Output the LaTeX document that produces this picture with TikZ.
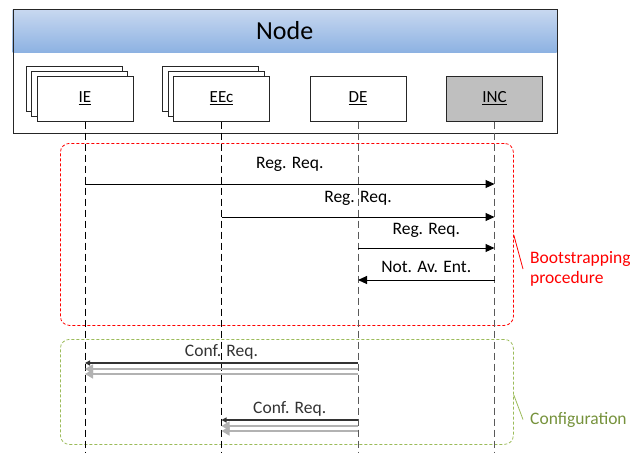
\documentclass[tikz,border=0pt]{standalone}
\usepackage{fontspec}
\setmainfont{Carlito}
\usetikzlibrary{arrows.meta, positioning, shadows}
\definecolor{hdrtop}{RGB}{200, 216, 240}
\definecolor{hdrbot}{RGB}{141, 178, 226}
\definecolor{incgray}{RGB}{191, 191, 191}
\definecolor{bootred}{RGB}{255, 0, 0}
\definecolor{cfgline}{RGB}{155, 187, 89}
\definecolor{cfgtext}{RGB}{118, 146, 60}

\begin{document}
\begin{tikzpicture}[x=1pt, y=-1pt, >=Stealth,
    lbl/.style={font=\fontsize{17.5}{20}\selectfont, inner sep=0pt},
    entity/.style={draw=black!85, fill=white, line width=1pt, minimum width=96pt, minimum height=45pt, inner sep=0pt, font=\fontsize{17}{20}\selectfont},
    stacked/.style={copy shadow={shadow xshift=-11pt, shadow yshift=10pt, fill=white, draw=black!85},
                    copy shadow={shadow xshift=-5.5pt, shadow yshift=5pt, fill=white, draw=black!85}},
    lifeline/.style={dash pattern=on 7pt off 4pt, line width=1pt},
    msg/.style={-{Triangle[length=9pt, width=8pt]}, line width=1pt},
    cfgmsg/.style={-{Triangle[length=5pt, width=5pt]}, line width=1.2pt, black!80},
    cfgcopy/.style={-{Triangle[length=8pt, width=9pt]}, line width=1.4pt, gray!60},
    group/.style={dash pattern=on 3pt off 2pt, line width=0.8pt, rounded corners=9pt, minimum width=453pt, inner sep=0pt, anchor=north west}
  ]
  \useasboundingbox (0,0) rectangle (630,453);

  % node frame with its header
  \node[anchor=north west, minimum width=544pt, minimum height=43pt, inner sep=0pt, top color=hdrtop, bottom color=hdrbot, font=\fontsize{26}{30}\selectfont] (hdr) at (12.5,9) {Node};
  \node[draw=black!85, line width=1.3pt, minimum width=544pt, minimum height=124pt, inner sep=0pt, anchor=north west] (frame) at (hdr.north west) {};

  % entities
  \node[entity, stacked] (IE) at (85,98.5) {\underline{IE}};
  \node[entity, stacked, right=39.5pt of IE] (EEc) {\underline{EEc}};
  \node[entity, right=39.5pt of EEc] (DE) {\underline{DE}};
  \node[entity, fill=incgray, right=39.5pt of DE] (INC) {\underline{INC}};

  % phases
  \node[group, draw=bootred, minimum height=182pt] (boot) at (60,143) {};
  \node[group, draw=cfgline, minimum height=105pt] (cfg) at (60,339) {};
  \node[lbl, text=bootred, align=left, anchor=west] (bootlbl) at (530,269) {Bootstrapping\\procedure};
  \node[lbl, text=cfgtext, anchor=west] (cfglbl) at (530,419.5) {Configuration};
  \draw[bootred, line width=0.8pt] (boot.east |- 0,235) -- ([xshift=-7pt]bootlbl.west);
  \draw[cfgline, line width=0.8pt] (cfg.east |- 0,395) -- ([xshift=-7pt]cfglbl.west);

  % lifelines
  \coordinate (bottom) at (0,453);
  \foreach \e/\col in {IE/black, EEc/black, DE/black!65, INC/black!65}
    \draw[lifeline, \col] (\e.south) -- (\e.south |- bottom);

  % bootstrapping messages
  \foreach \src/\dst/\yy/\gap/\txt in {IE/INC/184/16/Reg. Req., EEc/INC/217/15/Reg. Req., DE/INC/248/14/Reg. Req., INC/DE/280/8/Not. Av. Ent.}
    \draw[msg] (\src |- 0,\yy) -- node[lbl, midway, anchor=base, yshift=\gap pt] {\txt} (\dst |- 0,\yy);

  % configuration messages
  \foreach \tgt/\yy in {IE/363, EEc/420} {
    \draw[cfgcopy] (DE |- 0,\yy+11) -- (\tgt |- 0,\yy+11);
    \draw[cfgcopy] (DE |- 0,\yy+6) -- (\tgt |- 0,\yy+6);
    \draw[cfgmsg] (DE |- 0,\yy) -- node[lbl, midway, anchor=base, yshift=7pt] {Conf. Req.} (\tgt |- 0,\yy);
  }
\end{tikzpicture}
\end{document}
